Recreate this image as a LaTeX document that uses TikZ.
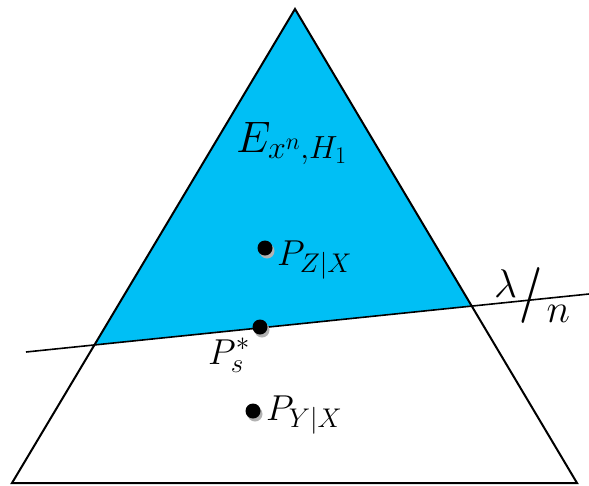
\documentclass[tikz,border=0pt]{standalone}
\usepackage{fix-cm}
\usepackage{amsmath}
\DeclareMathSizes{36}{36}{27}{21}
\DeclareMathSizes{40}{40}{30}{23}
\DeclareMathSizes{44}{44}{32}{24}
\definecolor{regionblue}{RGB}{0,191,245}
\begin{document}
\begin{tikzpicture}[
            x=1pt, y=-1pt,
            edge/.style={line width=2pt, line join=miter},
            cut/.style={line width=1.6pt},
            pt/.style={circle, fill=black, inner sep=0pt, minimum size=15pt},
            ptshadow/.style={circle, fill=black!30, inner sep=0pt, minimum size=15pt},
            lbl/.style={font=\fontsize{36}{40}\selectfont, inner sep=0pt, anchor=base west},
        ]
            \useasboundingbox (0, 0) rectangle (589, 485);

            %% simplex corners and the threshold line
            \coordinate (apex) at (295, 9);
            \coordinate (bl) at (12, 483);
            \coordinate (br) at (577, 483);
            \coordinate (cutl) at (26, 352);
            \coordinate (cutr) at (589, 294);
            \coordinate (xl) at (intersection of apex--bl and cutl--cutr);
            \coordinate (xr) at (intersection of apex--br and cutl--cutr);

            \fill[regionblue] (apex) -- (xl) -- (xr) -- cycle;
            \draw[edge] (apex) -- (bl) -- (br) -- cycle;
            \draw[cut] (cutl) -- (cutr);

            %% the three distributions
            \node[ptshadow] at (267, 251) {};
            \node[pt] (pz) at (265, 248) {};
            \node[ptshadow] at (262, 330) {};
            \node[pt] (ps) at (260, 327) {};
            \node[ptshadow] at (255, 414) {};
            \node[pt] (py) at (253, 411) {};

            \node[lbl] (lpz) at (277, 265) {$P_{Z|X}$};
            \node[lbl] (lps) at (208, 364) {$P_s^*$};
            \node[lbl] (lpy) at (266, 420) {$P_{Y|X}$};
            \node[lbl, font=\fontsize{44}{48}\selectfont] (lset) at (236, 152) {$E_{x^n,H_1}$};
            \node[lbl, font=\fontsize{40}{44}\selectfont] (lthr) at (494, 297)
                {$\lambda\mkern1mu\raisebox{-12pt}{\scalebox{1}[1.4]{$\boldsymbol{/}$}}\mkern2mu\raisebox{-25pt}{$n$}$};
        \end{tikzpicture}
\end{document}
